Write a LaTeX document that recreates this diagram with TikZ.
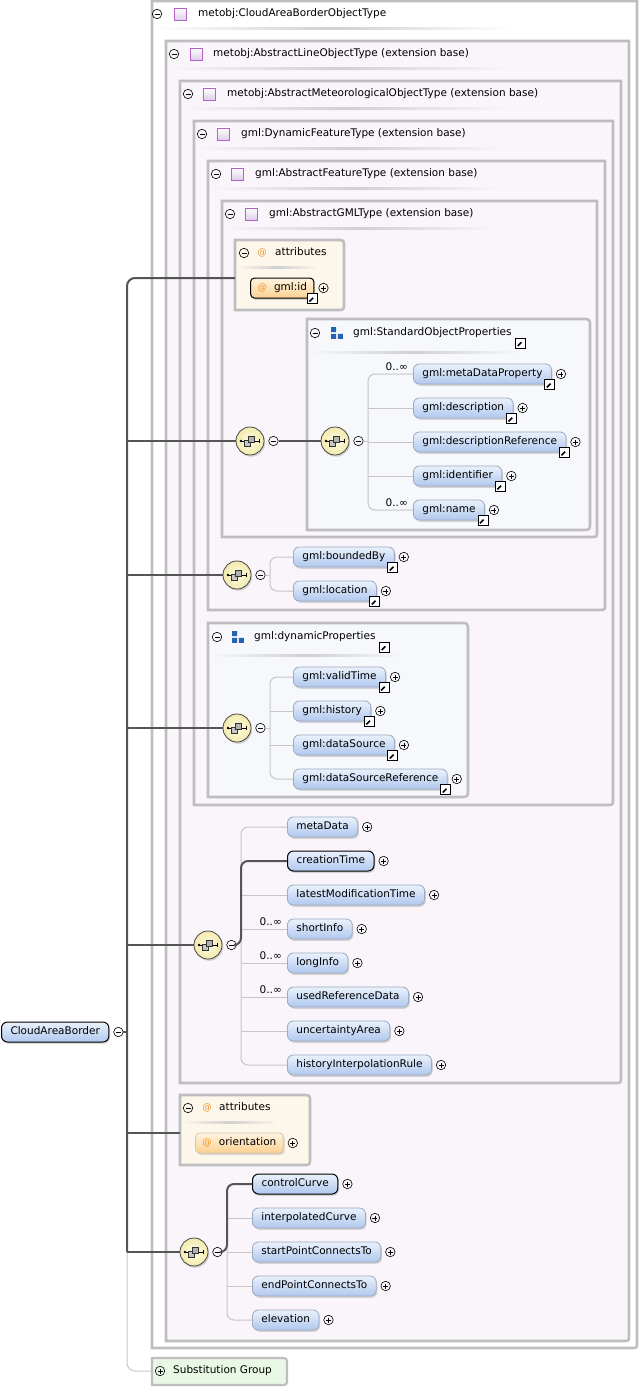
\documentclass[tikz,border=0pt]{standalone}
\usepackage{fontspec}
\setmainfont{DejaVu Sans}
\usetikzlibrary{positioning,shadows}
\definecolor{frmgray}{RGB}{190,190,190}
\definecolor{lavfill}{RGB}{249,245,250}
\definecolor{grpfill}{RGB}{246,248,252}
\definecolor{attfill}{RGB}{253,247,235}
\definecolor{subfill}{RGB}{233,248,229}
\definecolor{elt}{RGB}{234,241,252}
\definecolor{elb}{RGB}{176,200,238}
\definecolor{optbd}{RGB}{158,170,190}
\definecolor{att}{RGB}{255,244,224}
\definecolor{atb}{RGB}{251,208,145}
\definecolor{attbd}{RGB}{215,200,175}
\definecolor{atcol}{RGB}{240,150,40}
\definecolor{compin}{RGB}{255,253,230}
\definecolor{compout}{RGB}{242,234,172}
\definecolor{compbd}{RGB}{70,70,70}
\definecolor{typebd}{RGB}{176,100,196}
\definecolor{typefl}{RGB}{222,206,234}
\definecolor{grpblue}{RGB}{38,98,178}
\definecolor{reqln}{RGB}{85,85,85}
\definecolor{optln}{RGB}{198,198,198}
\definecolor{sepgray}{RGB}{208,208,208}
\newcommand{\dfont}{\fontsize{10.5}{12}\selectfont}
\newcommand{\cfont}{\fontsize{10.5}{12}\selectfont}
\newcommand{\atsign}{{\color{atcol}\fontsize{9.5}{11}\selectfont @}}
\tikzset{
  frm/.style={draw=frmgray,line width=2.6pt},
  hdr/.style={anchor=west,inner sep=0pt,text height=8pt,text depth=2.5pt,font=\dfont},
  hsep/.style={left color=#1,right color=#1,middle color=sepgray},
  hsep/.default=lavfill,
  elem/.style={draw=optbd,line width=0.8pt,rounded corners=6pt,top color=elt,bottom color=elb,
    anchor=west,minimum height=20pt,inner xsep=9pt,inner ysep=0pt,text height=8pt,text depth=2.5pt,
    font=\dfont,drop shadow={shadow xshift=1.2pt,shadow yshift=-1.8pt,opacity=0.3}},
  reqel/.style={elem,draw=black,line width=1pt},
  attel/.style={elem,rounded corners=4pt,top color=att,bottom color=atb,draw=attbd,inner xsep=7pt},
  reqatt/.style={attel,draw=black,line width=1pt},
  btn/.style={circle,draw=black,line width=0.6pt,minimum size=9.5pt,inner sep=0pt},
  minusbtn/.style={btn,path picture={\draw[line width=0.7pt] ([xshift=-2.5pt]path picture bounding box.center) -- ([xshift=2.5pt]path picture bounding box.center);}},
  plusbtn/.style={btn,path picture={\draw[line width=0.7pt] ([xshift=-2.5pt]path picture bounding box.center) -- ([xshift=2.5pt]path picture bounding box.center) ([yshift=-2.5pt]path picture bounding box.center) -- ([yshift=2.5pt]path picture bounding box.center);}},
  lnk/.style={rectangle,draw=black,line width=0.8pt,fill=white,minimum size=10pt,inner sep=0pt,
    path picture={\draw[line width=1.6pt] ([shift={(-3pt,-3pt)}]path picture bounding box.center) -- ([shift={(0.8pt,0.8pt)}]path picture bounding box.center);
      \fill ([shift={(3.4pt,3.4pt)}]path picture bounding box.center) -- ([shift={(-1.6pt,3.4pt)}]path picture bounding box.center) -- ([shift={(3.4pt,-1.6pt)}]path picture bounding box.center) -- cycle;}},
  comp/.style={circle,draw=compbd,line width=0.8pt,inner color=compin,outer color=compout,minimum size=28pt,inner sep=0pt,
    drop shadow={shadow xshift=1.2pt,shadow yshift=-1.8pt,opacity=0.3}},
  card/.style={inner sep=0pt,font=\cfont},
  atnode/.style={inner sep=0pt,text height=8pt,text depth=2.5pt},
  req/.style={draw=reqln,line width=2pt},
  opt/.style={draw=optln,line width=1pt},
  pics/seqmark/.style={code={
    \draw[black,line width=0.6pt] (-9,0) -- (9,0);
    \fill[black] (-9,0) circle (1.3);
    \draw[black,line width=0.6pt] (9,-2.2) -- (9,2.2);
    \draw[black!80,line width=0.5pt,fill=gray!45] (-5.5,-0.5) rectangle (0.5,5.5);
    \draw[black!80,line width=0.5pt,fill=gray!60] (-1.5,-5) rectangle (4.5,1);
  }},
  pics/typemark/.style={code={\draw[draw=typebd,line width=0.8pt,top color=white,bottom color=typefl] (-6,-6) rectangle (6,6);}},
  pics/grpmark/.style={code={\fill[grpblue] (-5.8,-5.8) rectangle (-0.8,-0.8) (-5.8,0.8) rectangle (-0.8,5.8) (0.8,0.8) rectangle (5.8,5.8);}},
}
\begin{document}
\begin{tikzpicture}[x=1pt,y=-1pt]
  \useasboundingbox (0,0) rectangle (639,1388);
  % type frames
  \draw[frm,fill=white] (152,1) -- (637,1) -- (637,1342) .. controls (637,1348) .. (631,1348) -- (152,1348) -- cycle;
  \draw[frm,fill=lavfill] (166,41) -- (629,41) -- (629,1335) .. controls (629,1341) .. (623,1341) -- (166,1341) -- cycle;
  \draw[frm,fill=lavfill] (180,81) -- (621,81) -- (621,1077) .. controls (621,1083) .. (615,1083) -- (180,1083) -- cycle;
  \draw[frm,fill=lavfill] (194,121) -- (613,121) -- (613,799) .. controls (613,805) .. (607,805) -- (194,805) -- cycle;
  \draw[frm,fill=lavfill] (208,161) -- (605,161) -- (605,604) .. controls (605,610) .. (599,610) -- (208,610) -- cycle;
  \draw[frm,fill=lavfill] (222,201) -- (597,201) -- (597,531) .. controls (597,537) .. (591,537) -- (222,537) -- cycle;
  \node[minusbtn] (f1m) at (157,14) {};
  \pic at (180,14) {typemark};
  \node[hdr] (f1t) at (198,14) {metobj:CloudAreaBorderObjectType};
  \shade[hsep=white] (154,28) rectangle (513,30);
  \node[minusbtn] (f2m) at (174,54) {};
  \pic at (196,54) {typemark};
  \node[hdr] (f2t) at (213,54) {metobj:AbstractLineObjectType (extension base)};
  \shade[hsep] (168,68) rectangle (510,70);
  \node[minusbtn] (f3m) at (188,94) {};
  \pic at (209,94) {typemark};
  \node[hdr] (f3t) at (227,94) {metobj:AbstractMeteorologicalObjectType (extension base)};
  \shade[hsep] (182,108) rectangle (507,110);
  \node[minusbtn] (f4m) at (202,134) {};
  \pic at (223,134) {typemark};
  \node[hdr] (f4t) at (241,134) {gml:DynamicFeatureType (extension base)};
  \shade[hsep] (196,148) rectangle (504,150);
  \node[minusbtn] (f5m) at (216,174) {};
  \pic at (237,174) {typemark};
  \node[hdr] (f5t) at (255,174) {gml:AbstractFeatureType (extension base)};
  \shade[hsep] (210,188) rectangle (500,190);
  \node[minusbtn] (f6m) at (230,214) {};
  \pic at (251,214) {typemark};
  \node[hdr] (f6t) at (269,214) {gml:AbstractGMLType (extension base)};
  \shade[hsep] (224,228) rectangle (497,230);

  % attributes (gml:id)
  \draw[frm,fill=attfill] (235,240) -- (337,240) .. controls (344,240) .. (344,247) -- (344,303) .. controls (344,310) .. (337,310) -- (235,310) -- cycle;
  \node[minusbtn] (a1m) at (244,253) {};
  \node[atnode] (a1at) at (262,253) {\atsign};
  \node[hdr] (a1t) at (275,253) {attributes};
  \shade[hsep=attfill] (237,266) rectangle (318,268);
  \node[reqatt] (gid) at (250,288) {\atsign\hspace{7pt}gml:id};
  \node[lnk] (gidl) at ([shift={(-2,0)}]gid.south east) {};
  \node[plusbtn,right=4pt of gid] (gidp) {};

  % gml:StandardObjectProperties
  \draw[frm,fill=grpfill] (307,319) -- (582,319) .. controls (590,319) .. (590,327) -- (590,522) .. controls (590,530) .. (582,530) -- (307,530) -- cycle;
  \node[minusbtn] (g1m) at (315,333) {};
  \pic at (337,333) {grpmark};
  \node[hdr] (g1t) at (353,333) {gml:StandardObjectProperties};
  \node[lnk] (g1l) at ([shift={(9,10)}]g1t.east) {};
  \shade[hsep=grpfill] (309,351) rectangle (520,353);

  % gml:dynamicProperties
  \draw[frm,fill=grpfill] (208,623) -- (460,623) .. controls (468,623) .. (468,631) -- (468,789) .. controls (468,797) .. (460,797) -- (208,797) -- cycle;
  \node[minusbtn] (g2m) at (217,637) {};
  \pic at (238,637) {grpmark};
  \node[hdr] (g2t) at (254,637) {gml:dynamicProperties};
  \node[lnk] (g2l) at ([shift={(9,10)}]g2t.east) {};
  \shade[hsep=grpfill] (210,654) rectangle (403,656);

  % attributes (orientation)
  \draw[frm,fill=attfill] (180,1095) -- (303,1095) .. controls (310,1095) .. (310,1102) -- (310,1158) .. controls (310,1165) .. (303,1165) -- (180,1165) -- cycle;
  \node[minusbtn] (a2m) at (188,1108) {};
  \node[atnode] (a2at) at (207,1108) {\atsign};
  \node[hdr] (a2t) at (219,1108) {attributes};
  \shade[hsep=attfill] (182,1121) rectangle (278,1123);
  \node[attel] (ori) at (195,1143) {\atsign\hspace{7pt}orientation};
  \node[plusbtn,right=4pt of ori] (orip) {};

  % substitution group
  \draw[frm,line width=2.2pt,fill=subfill] (152,1358) -- (280,1358) .. controls (287,1358) .. (287,1365) -- (287,1378) .. controls (287,1385) .. (280,1385) -- (152,1385) -- cycle;
  \node[plusbtn] (sgp) at (160,1371) {};
  \node[hdr] (sgt) at (173,1371) {Substitution Group};

  % root and compositors
  \node[reqel] (root) at (1,1032) {CloudAreaBorder};
  \node[minusbtn,right=4pt of root] (rootm) {};
  \node[comp] (seq1) at (250,441) {};
  \node[minusbtn,right=4pt of seq1] (m1) {};
  \node[comp] (seq2) at (335,441) {};
  \node[minusbtn,right=4pt of seq2] (m2) {};
  \node[comp] (seq3) at (237,575) {};
  \node[minusbtn,right=4pt of seq3] (m3) {};
  \node[comp] (seq4) at (237,728) {};
  \node[minusbtn,right=4pt of seq4] (m4) {};
  \node[comp] (seq5) at (208,945) {};
  \node[minusbtn,right=4pt of seq5] (m5) {};
  \node[comp] (seq6) at (194,1252) {};
  \node[minusbtn,right=4pt of seq6] (m6) {};
  \pic at (seq1) {seqmark};
  \pic at (seq2) {seqmark};
  \pic at (seq3) {seqmark};
  \pic at (seq4) {seqmark};
  \pic at (seq5) {seqmark};
  \pic at (seq6) {seqmark};

  % trunk
  \coordinate (tr) at (127,1032);
  \coordinate (trb) at (127,1252);
  \coordinate (a1c) at (235,278);
  \coordinate (a2c) at (180,1133);
  \coordinate (sgc) at (152,1371);
  \draw[opt,rounded corners=8pt] (trb) |- (sgc);
  \draw[req] (rootm) -- (tr);
  \draw[req,rounded corners=8pt] (a1c) -| (trb);
  \draw[req] (trb) -- (seq6);
  \draw[req] (tr |- seq1) -- (seq1);
  \draw[req] (tr |- seq3) -- (seq3);
  \draw[req] (tr |- seq4) -- (seq4);
  \draw[req] (tr |- seq5) -- (seq5);
  \draw[req] (tr |- a2c) -- (a2c);
  \draw[req] (m1) -- (seq2);

  % children of gml:StandardObjectProperties
  \node[elem] (smeta) at (413,374) {gml:metaDataProperty};
  \node[elem] (sdesc) at (413,408) {gml:description};
  \node[elem] (sdref) at (413,442) {gml:descriptionReference};
  \node[elem] (sident) at (413,476) {gml:identifier};
  \node[elem] (sname) at (413,510) {gml:name};
  \node[lnk] (smetal) at ([shift={(-2,0)}]smeta.south east) {};
  \node[lnk] (sdescl) at ([shift={(-2,0)}]sdesc.south east) {};
  \node[lnk] (sdrefl) at ([shift={(-2,0)}]sdref.south east) {};
  \node[lnk] (sidentl) at ([shift={(-2,0)}]sident.south east) {};
  \node[lnk] (snamel) at ([shift={(-2,0)}]sname.south east) {};
  \node[plusbtn,right=4pt of smeta] (smetap) {};
  \node[plusbtn,right=4pt of sdesc] (sdescp) {};
  \node[plusbtn,right=4pt of sdref] (sdrefp) {};
  \node[plusbtn,right=4pt of sident] (sidentp) {};
  \node[plusbtn,right=4pt of sname] (snamep) {};
  \node[card,above left=3pt and 5pt of smeta.west] (smetac) {0..∞};
  \node[card,above left=3pt and 5pt of sname.west] (snamec) {0..∞};
  \coordinate (j2) at (368,441);
  \draw[opt] (m2) -- (j2);
  \draw[opt,rounded corners=7pt] (smeta.west) -| (j2) |- (sname.west);
  \draw[opt] (j2 |- sdesc.west) -- (sdesc.west);
  \draw[opt] (j2 |- sdref.west) -- (sdref.west);
  \draw[opt] (j2 |- sident.west) -- (sident.west);

  % children of gml:AbstractFeatureType
  \node[elem] (bby) at (293,557) {gml:boundedBy};
  \node[elem] (loc) at (293,591) {gml:location};
  \node[lnk] (bbyl) at ([shift={(-2,0)}]bby.south east) {};
  \node[lnk] (locl) at ([shift={(-2,0)}]loc.south east) {};
  \node[plusbtn,right=4pt of bby] (bbyp) {};
  \node[plusbtn,right=4pt of loc] (locp) {};
  \coordinate (j3) at (270,575);
  \draw[opt] (m3) -- (j3);
  \draw[opt,rounded corners=7pt] (bby.west) -| (j3) |- (loc.west);

  % children of gml:dynamicProperties
  \node[elem] (vt) at (293,677) {gml:validTime};
  \node[elem] (hst) at (293,711) {gml:history};
  \node[elem] (dsr) at (293,745) {gml:dataSource};
  \node[elem] (dsrr) at (293,779) {gml:dataSourceReference};
  \node[lnk] (vtl) at ([shift={(-2,0)}]vt.south east) {};
  \node[lnk] (hstl) at ([shift={(-2,0)}]hst.south east) {};
  \node[lnk] (dsrl) at ([shift={(-2,0)}]dsr.south east) {};
  \node[lnk] (dsrrl) at ([shift={(-2,0)}]dsrr.south east) {};
  \node[plusbtn,right=4pt of vt] (vtp) {};
  \node[plusbtn,right=4pt of hst] (hstp) {};
  \node[plusbtn,right=4pt of dsr] (dsrp) {};
  \node[plusbtn,right=4pt of dsrr] (dsrrp) {};
  \coordinate (j4) at (270,728);
  \draw[opt] (m4) -- (j4);
  \draw[opt,rounded corners=7pt] (vt.west) -| (j4) |- (dsrr.west);
  \draw[opt] (j4 |- hst.west) -- (hst.west);
  \draw[opt] (j4 |- dsr.west) -- (dsr.west);

  % children of metobj:AbstractMeteorologicalObjectType
  \node[elem] (md) at (287,827) {metaData};
  \node[reqel] (ct) at (287,861) {creationTime};
  \node[elem] (lmt) at (287,895) {latestModificationTime};
  \node[elem] (si) at (287,929) {shortInfo};
  \node[elem] (li) at (287,963) {longInfo};
  \node[elem] (urd) at (287,997) {usedReferenceData};
  \node[elem] (ua) at (287,1031) {uncertaintyArea};
  \node[elem] (hir) at (287,1065) {historyInterpolationRule};
  \node[plusbtn,right=4pt of md] (mdp) {};
  \node[plusbtn,right=4pt of ct] (ctp) {};
  \node[plusbtn,right=4pt of lmt] (lmtp) {};
  \node[plusbtn,right=4pt of si] (sip) {};
  \node[plusbtn,right=4pt of li] (lip) {};
  \node[plusbtn,right=4pt of urd] (urdp) {};
  \node[plusbtn,right=4pt of ua] (uap) {};
  \node[plusbtn,right=4pt of hir] (hirp) {};
  \node[card,above left=3pt and 5pt of si.west] (sic) {0..∞};
  \node[card,above left=3pt and 5pt of li.west] (lic) {0..∞};
  \node[card,above left=3pt and 5pt of urd.west] (urdc) {0..∞};
  \coordinate (j5) at (241,945);
  \draw[opt,rounded corners=7pt] (md.west) -| (j5) |- (hir.west);
  \draw[opt] (j5 |- lmt.west) -- (lmt.west);
  \draw[opt] (j5 |- si.west) -- (si.west);
  \draw[opt] (j5 |- li.west) -- (li.west);
  \draw[opt] (j5 |- urd.west) -- (urd.west);
  \draw[opt] (j5 |- ua.west) -- (ua.west);
  \draw[req,rounded corners=7pt] (m5) -- (j5) |- (ct.west);

  % children of metobj:CloudAreaBorderObjectType
  \node[reqel] (cc) at (252,1184) {controlCurve};
  \node[elem] (ic) at (252,1218) {interpolatedCurve};
  \node[elem] (spc) at (252,1252) {startPointConnectsTo};
  \node[elem] (epc) at (252,1286) {endPointConnectsTo};
  \node[elem] (elv) at (252,1320) {elevation};
  \node[plusbtn,right=4pt of cc] (ccp) {};
  \node[plusbtn,right=4pt of ic] (icp) {};
  \node[plusbtn,right=4pt of spc] (spcp) {};
  \node[plusbtn,right=4pt of epc] (epcp) {};
  \node[plusbtn,right=4pt of elv] (elvp) {};
  \coordinate (j6) at (227,1252);
  \draw[opt,rounded corners=7pt] (cc.west) -| (j6) |- (elv.west);
  \draw[opt] (j6 |- ic.west) -- (ic.west);
  \draw[opt] (j6 |- spc.west) -- (spc.west);
  \draw[opt] (j6 |- epc.west) -- (epc.west);
  \draw[req,rounded corners=7pt] (m6) -- (j6) |- (cc.west);
\end{tikzpicture}
\end{document}
